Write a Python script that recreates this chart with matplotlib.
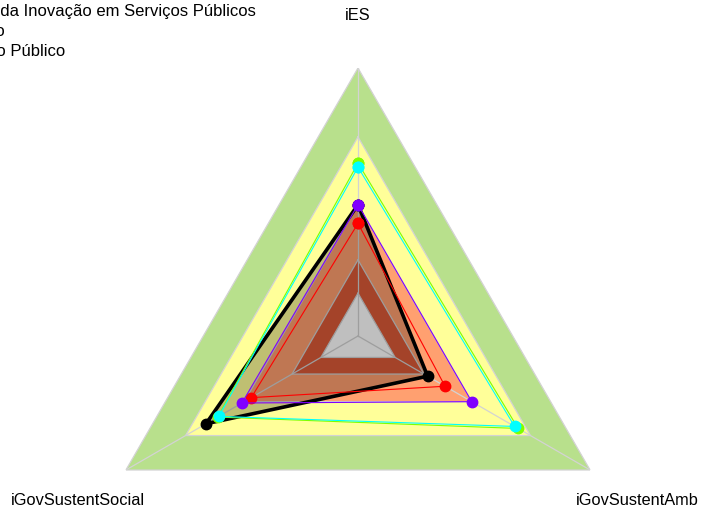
import numpy as np
import matplotlib
matplotlib.use('Agg')
import matplotlib.pyplot as plt
from matplotlib.lines import Line2D

plt.rcParams['font.family'] = ['Liberation Sans', 'DejaVu Sans']

# axes in fmsb order (counter-clockwise from the top)
axis_names = ["iES", "iGovSustentSocial", "iGovSustentAmb"]
angles_deg = [90, 210, 330]

# background bands (outer limit of each band) and colours
band_levels = [1.0, 0.743, 0.49, 0.284, 0.16]
band_colors = ["#B8E08C", "#FFFF99", "#FFA070", "#DC5A38", "#FFFFFF"]

# series values: iES, iGovSustentSocial, iGovSustentAmb
org_vals = [0.49, 0.655, 0.30]
red_vals = [0.42, 0.46, 0.375]
purple_vals = [0.49, 0.50, 0.49]
green_vals = [0.645, 0.605, 0.69]
cyan_vals = [0.63, 0.60, 0.675]

legend_labels = ["Média da Inovação em Serviços Públicos", "Serviço", "Serviço Público"]

theta = np.deg2rad(angles_deg)
th = np.append(theta, theta[0])

def closed(v):
    return np.append(v, v[0])

W, H = 702, 511
fig = plt.figure(figsize=(W / 100, H / 100), dpi=100)
cx, cy, R = 358, 511 - 336, 268
ax = fig.add_axes([(cx - R) / W, (cy - R) / H, 2 * R / W, 2 * R / H], projection='polar')
ax.set_ylim(0, 1)
ax.set_axis_off()

# bands
for lev, col in zip(band_levels, band_colors):
    ax.fill(th, [lev] * 4, color=col, lw=0, zorder=1)
    ax.plot(th, [lev] * 4, color="#D3D3D3", lw=0.9, zorder=2)

# spokes
for t in theta:
    ax.plot([t, t], [0, 1], color="#D3D3D3", lw=0.9, zorder=2)

# organisation series (filled)
ax.fill(th, closed(org_vals), color="black", alpha=0.25, lw=0, zorder=3)
ax.plot(th, closed(org_vals), color="black", lw=2.6, marker="o", ms=7.5, zorder=4)

ax.plot(th, closed(red_vals), color="#FF0000", lw=0.8, marker="o", ms=7.5, zorder=5)
ax.plot(th, closed(purple_vals), color="#8000FF", lw=0.8, marker="o", ms=7.5, zorder=5)
ax.plot(th, closed(green_vals), color="#7FFF00", lw=0.8, marker="o", ms=7.5, zorder=5)
ax.plot(th, closed(cyan_vals), color="#00FFFF", lw=0.8, marker="o", ms=7.5, zorder=5)

# axis labels
for t, name in zip(theta, axis_names):
    ax.annotate(name, (t, 1.205), xytext=(0, -2), textcoords="offset points",
                ha="center", va="center", fontsize=11.8, color="black", annotation_clip=False)

handles = [Line2D([], [], color=c, lw=1, marker="o") for c in ["#00FFFF", "#8000FF", "#FF0000"]]
fig.legend(handles, legend_labels, loc="upper left", bbox_to_anchor=(-97 / W, 1 - 4 / H),
           frameon=False, fontsize=12, borderpad=0, borderaxespad=0,
           handlelength=2, handletextpad=0.8, labelspacing=0.3)

fig.savefig("out.png", dpi=100)
